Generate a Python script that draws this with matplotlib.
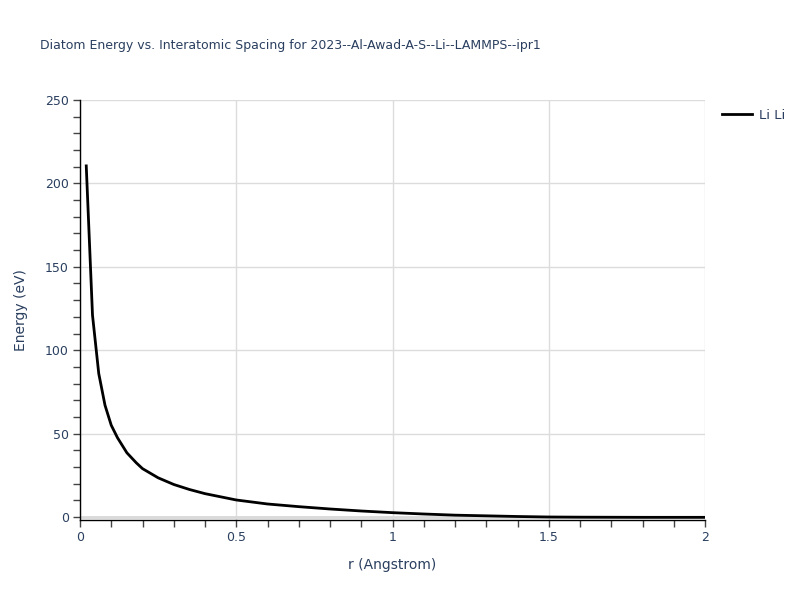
import matplotlib
matplotlib.use("Agg")
import matplotlib.pyplot as plt
from matplotlib.ticker import MultipleLocator

r_vals = [0.02, 0.04, 0.06, 0.08, 0.10, 0.12, 0.15, 0.18, 0.20, 0.25, 0.30, 0.35,
          0.40, 0.50, 0.60, 0.70, 0.80, 0.90, 1.00, 1.10, 1.20, 1.30, 1.40, 1.50,
          1.60, 1.80, 2.00]
energy = [210.5, 121.0, 86.0, 67.0, 55.0, 47.5, 38.5, 32.5, 29.0, 23.5, 19.5, 16.5,
          14.0, 10.2, 7.8, 6.2, 4.8, 3.6, 2.6, 1.8, 1.1, 0.7, 0.3, 0.0,
          -0.1, -0.2, -0.2]
series_name = "Li Li"
title = "Diatom Energy vs. Interatomic Spacing for 2023--Al-Awad-A-S--Li--LAMMPS--ipr1"
x_label = "r (Angstrom)"
y_label = "Energy (eV)"
x_ticks = [0, 0.5, 1, 1.5, 2]
x_tick_labels = ["0", "0.5", "1", "1.5", "2"]
y_ticks = [0, 50, 100, 150, 200, 250]

text_color = "#2a3f5f"
plt.rcParams['font.family'] = ['DejaVu Sans']

fig = plt.figure(figsize=(8, 6), dpi=100)
ax = fig.add_axes([0.1, 1 - 519.5 / 600, 625 / 800, 419.5 / 600])

ax.plot(r_vals, energy, color="black", lw=2, label=series_name, zorder=3)
ax.axhline(0, color="#d9d9d9", lw=2, zorder=1)

ax.set_xlim(0, 2)
ax.set_ylim(-1.5, 250)
ax.set_xticks(x_ticks)
ax.set_xticklabels(x_tick_labels)
ax.set_yticks(y_ticks)
ax.xaxis.set_minor_locator(MultipleLocator(0.1))
ax.yaxis.set_minor_locator(MultipleLocator(10))
ax.grid(True, which="major", color="#dcdcdc", lw=1, zorder=0)
ax.set_axisbelow(True)

for s in ["top", "right"]:
    ax.spines[s].set_visible(False)
for s in ["left", "bottom"]:
    ax.spines[s].set_color("black")
    ax.spines[s].set_linewidth(1)

ax.tick_params(which="major", direction="out", length=5, width=1, color="#444444",
               labelsize=9, labelcolor=text_color, pad=3)
ax.tick_params(which="minor", direction="out", length=5, width=1, color="#444444")

ax.set_xlabel(x_label, fontsize=10, color=text_color, labelpad=10)
ax.set_ylabel(y_label, fontsize=10, color=text_color, labelpad=12)

fig.text(40 / 800, 1 - 45 / 600, title, fontsize=9, color=text_color,
         ha="left", va="center")

leg = ax.legend(loc="upper left", bbox_to_anchor=(1.009, 1.008), frameon=False,
                fontsize=9.5, handlelength=2.2, handletextpad=0.6,
                labelcolor=text_color)

fig.savefig("out.png", dpi=100)
